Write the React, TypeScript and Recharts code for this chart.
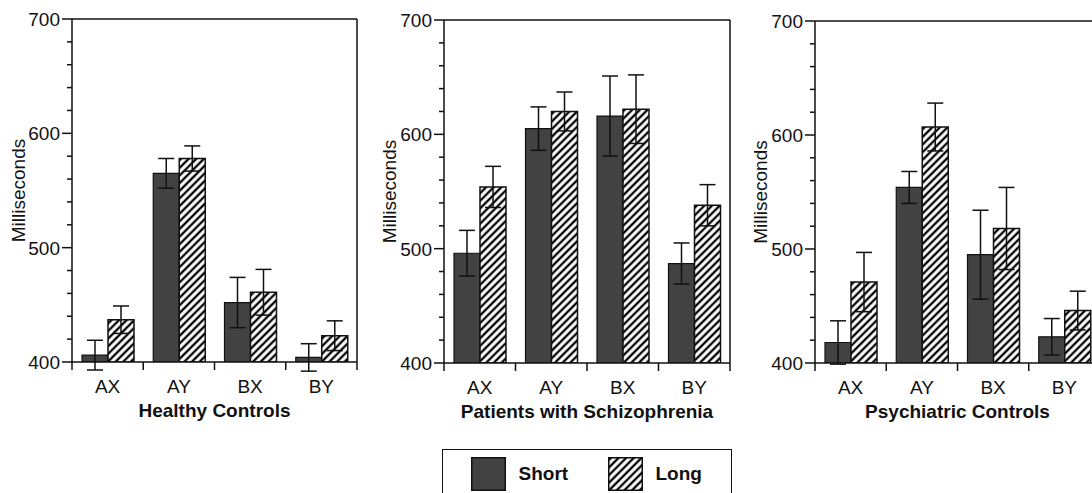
import { BarChart, Bar, XAxis, YAxis, ErrorBar, Legend, ReferenceLine } from "recharts";

const categories = ["AX", "AY", "BX", "BY"];
const seriesNames = ["Short", "Long"];
const yTicks = [400, 420, 440, 460, 480, 500, 520, 540, 560, 580, 600, 620, 640, 660, 680, 700];

// Healthy Controls
const healthyShort = [406, 565, 452, 404];
const healthyShortErr = [13, 13, 22, 12];
const healthyLong = [437, 578, 461, 423];
const healthyLongErr = [12, 11, 20, 13];

// Patients with Schizophrenia
const schizShort = [496, 605, 616, 487];
const schizShortErr = [20, 19, 35, 18];
const schizLong = [554, 620, 622, 538];
const schizLongErr = [18, 17, 30, 18];

// Psychiatric Controls
const psychShort = [418, 554, 495, 423];
const psychShortErr = [19, 14, 39, 16];
const psychLong = [471, 607, 518, 446];
const psychLongErr = [26, 21, 36, 17];

const FONT = '"Liberation Sans", Arial, Helvetica, sans-serif';
const INK = "#111";
const DARK = "#424242";

function buildRows(short: number[], shortErr: number[], long: number[], longErr: number[]) {
  return categories.map((cat, i) => ({
    cat,
    short: short[i],
    shortErr: shortErr[i],
    long: long[i],
    longErr: longErr[i],
  }));
}

function YTick({ x, y, payload }: any) {
  const major = payload.value % 100 === 0;
  return (
    <g>
      <line x1={x - (major ? 10 : 5)} x2={x} y1={y} y2={y} stroke={INK} strokeWidth={1.5} />
      {major && (
        <text x={x - 12} y={y} dy="0.36em" textAnchor="end" fontSize={19} fontFamily={FONT} fill={INK}>
          {payload.value}
        </text>
      )}
    </g>
  );
}

function XTick({ x, y, payload, bandW }: any) {
  const last = payload.value === categories[categories.length - 1];
  return (
    <g>
      <line x1={x - bandW / 2} x2={x - bandW / 2} y1={y} y2={y + 8} stroke={INK} strokeWidth={1.5} />
      {last && <line x1={x + bandW / 2} x2={x + bandW / 2} y1={y} y2={y + 8} stroke={INK} strokeWidth={1.5} />}
      <text x={x} y={y + 31} textAnchor="middle" fontSize={19} fontFamily={FONT} fill={INK}>
        {payload.value}
      </text>
    </g>
  );
}

function YTitle({ viewBox, dx }: any) {
  const cx = viewBox.x + dx;
  const cy = viewBox.y + viewBox.height / 2;
  return (
    <text
      x={cx}
      y={cy}
      transform={`rotate(-90, ${cx}, ${cy})`}
      textAnchor="middle"
      dy="0.36em"
      fontSize={19}
      fontFamily={FONT}
      fill={INK}
    >
      Milliseconds
    </text>
  );
}

function XTitle({ viewBox, text }: any) {
  return (
    <text
      x={viewBox.x + viewBox.width / 2}
      y={viewBox.y + 55}
      textAnchor="middle"
      fontSize={19}
      fontWeight="bold"
      fontFamily={FONT}
      fill={INK}
    >
      {text}
    </text>
  );
}

function LegendBox({ payload }: any) {
  const items = seriesNames
    .map((n) => (payload || []).find((it: any) => it.value === n))
    .filter(Boolean);
  const spots = [29, 166];
  return (
    <div
      style={{
        position: "relative",
        width: 290,
        height: 51,
        boxSizing: "border-box",
        border: "1.5px solid #111",
        background: "#fff",
      }}
    >
      {items.map((it: any, i: number) => (
        <div key={it.value} style={{ position: "absolute", left: spots[i] - 1.5, top: 6.5, display: "flex", alignItems: "center" }}>
          <svg width={35} height={34}>
            <rect x={0.75} y={0.75} width={33.5} height={32.5} fill={it.color} stroke={INK} strokeWidth={1.5} />
          </svg>
          <span style={{ marginLeft: 13, fontFamily: FONT, fontWeight: "bold", fontSize: 19, color: INK }}>{it.value}</span>
        </div>
      ))}
    </div>
  );
}

type PanelProps = {
  id: string;
  title: string;
  rows: any[];
  left: number;
  width: number;
  height: number;
  marginTop: number;
  yAxisWidth: number;
  xAxisHeight: number;
  yTitleX: number;
  legend?: boolean;
};

function Panel(p: PanelProps) {
  const marginRight = 5;
  const plotW = p.width - marginRight - p.yAxisWidth;
  const bandW = plotW / categories.length;
  const hatch = `hatch-${p.id}`;
  return (
    <div style={{ position: "absolute", left: p.left, top: 0 }}>
      <BarChart
        width={p.width}
        height={p.height}
        data={p.rows}
        margin={{ top: p.marginTop, right: marginRight, left: 0, bottom: 0 }}
        barCategoryGap={10}
        barGap={0}
      >
        <defs>
          <pattern id={hatch} patternUnits="userSpaceOnUse" width={5.4} height={5.4} patternTransform="rotate(45)">
            <rect width={5.4} height={5.4} fill="#fff" />
            <line x1={2.7} y1={0} x2={2.7} y2={5.4} stroke="#000" strokeWidth={2.3} />
          </pattern>
        </defs>
        <XAxis
          dataKey="cat"
          height={p.xAxisHeight}
          interval={0}
          tickSize={0}
          tickMargin={0}
          tickLine={false}
          axisLine={{ stroke: INK, strokeWidth: 1.5 }}
          tick={<XTick bandW={bandW} />}
          label={<XTitle text={p.title} />}
        />
        <YAxis
          width={p.yAxisWidth}
          domain={[400, 700]}
          allowDataOverflow
          ticks={yTicks}
          interval={0}
          tickSize={0}
          tickMargin={0}
          tickLine={false}
          axisLine={{ stroke: INK, strokeWidth: 1.5 }}
          tick={<YTick />}
          label={<YTitle dx={p.yTitleX} />}
        />
        <ReferenceLine y={700} stroke={INK} strokeWidth={1.5} />
        <ReferenceLine x={categories[categories.length - 1]} position="end" ifOverflow="visible" stroke={INK} strokeWidth={1.5} />
        <Bar dataKey="short" name={seriesNames[0]} fill={DARK} stroke={INK} strokeWidth={1.2} isAnimationActive={false}>
          <ErrorBar dataKey="shortErr" width={8} stroke={INK} strokeWidth={1.5} />
        </Bar>
        <Bar dataKey="long" name={seriesNames[1]} fill={`url(#${hatch})`} stroke={INK} strokeWidth={1.5} isAnimationActive={false}>
          <ErrorBar dataKey="longErr" width={8} stroke={INK} strokeWidth={1.5} />
        </Bar>
        {p.legend && (
          <Legend
            verticalAlign="bottom"
            wrapperStyle={{ left: 78, top: 449, width: 290, height: 51 }}
            content={<LegendBox />}
          />
        )}
      </BarChart>
    </div>
  );
}

export default function App() {
  return (
    <div
      style={{
        position: "absolute",
        left: 0,
        top: 0,
        width: 1092,
        height: 493,
        overflow: "hidden",
        background: "#fff",
      }}
    >
      <Panel
        id="hc"
        title="Healthy Controls"
        rows={buildRows(healthyShort, healthyShortErr, healthyLong, healthyLongErr)}
        left={0}
        width={362}
        height={422}
        marginTop={19}
        yAxisWidth={72}
        xAxisHeight={60}
        yTitleX={18}
      />
      <Panel
        id="sz"
        title="Patients with Schizophrenia"
        rows={buildRows(schizShort, schizShortErr, schizLong, schizLongErr)}
        left={364}
        width={371}
        height={500}
        marginTop={20}
        yAxisWidth={80}
        xAxisHeight={86}
        yTitleX={25}
        legend
      />
      <Panel
        id="pc"
        title="Psychiatric Controls"
        rows={buildRows(psychShort, psychShortErr, psychLong, psychLongErr)}
        left={735}
        width={370}
        height={423}
        marginTop={21}
        yAxisWidth={80}
        xAxisHeight={60}
        yTitleX={25}
      />
    </div>
  );
}
